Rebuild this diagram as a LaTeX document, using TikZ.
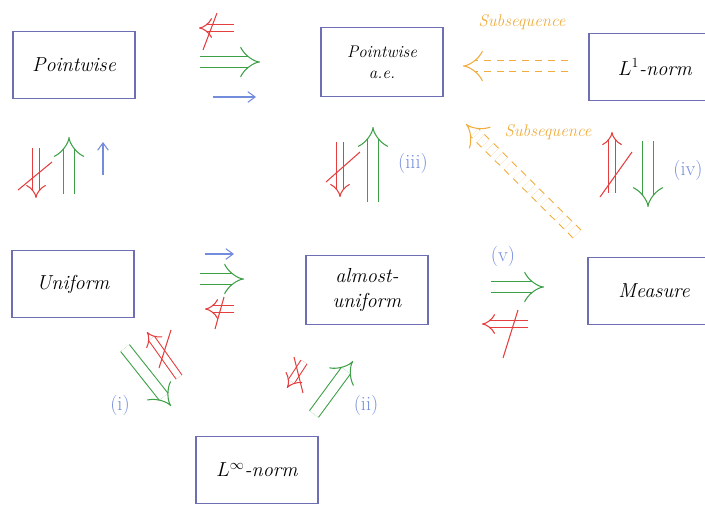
\documentclass[tikz,border=0pt]{standalone}
\usepackage{xcolor}
\usepackage{tikz}
\usetikzlibrary{arrows.meta}

\definecolor{boxblue}{RGB}{110,110,180}
\definecolor{okgreen}{RGB}{60,160,70}
\definecolor{nored}{RGB}{228,62,62}
\definecolor{penblue}{RGB}{115,140,220}
\definecolor{suborange}{RGB}{240,172,60}

\begin{document}
\begin{tikzpicture}[
  x=0.3mm, y=-0.3mm,
  box/.style={rectangle, draw=boxblue, line width=1pt, minimum width=36.6mm, minimum height=20mm, align=center, font=\LARGE\itshape},
  imp/.style={draw=okgreen, line width=0.9pt, double, double distance=3mm, -{Implies}},
  nimp/.style={draw=nored, line width=0.9pt, double, double distance=1.8mm, -{Implies}},
  arr/.style={draw=penblue, line width=0.9pt, -{Straight Barb[length=2.2mm, width=3.2mm]}},
  subarr/.style={draw=suborange, line width=0.9pt, double, double distance=3mm, dashed, dash pattern=on 6pt off 5pt, -{Implies}},
  slash/.style={draw=nored, line width=0.9pt},
  lab/.style={text=penblue, font=\LARGE},
  subtxt/.style={text=suborange, font=\Large\itshape}
]
\useasboundingbox (0,0) rectangle (705,504);

% boxes
\node[box] (pw) at (74,65) {Pointwise};
\node[box, font=\Large\itshape, minimum height=20.7mm] (pae) at (382,62) {Pointwise\\a.e.};
\node[box, minimum width=39.6mm] (l1) at (655,67) {$L^1$-norm};
\node[box] (uni) at (73,284) {Uniform};
\node[box, minimum height=20.7mm] (au) at (367,290) {almost-\\uniform};
\node[box, minimum width=39.6mm] (meas) at (654,291) {Measure};
\node[box] (linf) at (257,470) {$L^\infty$-norm};

% Pointwise -- Pointwise a.e.
\coordinate (pwa1) at (234,28); \coordinate (pwa2) at (199,28);
\coordinate (pwx1) at (217,13); \coordinate (pwx2) at (203,50);
\coordinate (pwb1) at (200,62); \coordinate (pwb2) at (260,62);
\coordinate (pwc1) at (213,97); \coordinate (pwc2) at (256,97);
\draw[nimp] (pwa1) -- (pwa2);
\draw[slash] (pwx1) -- (pwx2);
\draw[imp] (pwb1) -- (pwb2);
\draw[arr] (pwc1) -- (pwc2);

% L1 -- Pointwise a.e.
\coordinate (l1a1) at (568,66); \coordinate (l1a2) at (463,66);
\draw[subarr] (l1a1) -- (l1a2);
\node[subtxt] (sub1) at (522,22) {Subsequence};

% Pointwise -- Uniform
\coordinate (pua1) at (36,148); \coordinate (pua2) at (36,198);
\coordinate (pux1) at (18,190); \coordinate (pux2) at (52,162);
\coordinate (pub1) at (69,194); \coordinate (pub2) at (69,137);
\coordinate (puc1) at (103,175); \coordinate (puc2) at (103,142);
\draw[nimp] (pua1) -- (pua2);
\draw[slash] (pux1) -- (pux2);
\draw[imp] (pub1) -- (pub2);
\draw[arr] (puc1) -- (puc2);

% Pointwise a.e. -- almost-uniform
\coordinate (aea1) at (340,142); \coordinate (aea2) at (340,197);
\coordinate (aex1) at (326,182); \coordinate (aex2) at (360,152);
\coordinate (aeb1) at (373,202); \coordinate (aeb2) at (373,127);
\draw[nimp] (aea1) -- (aea2);
\draw[slash] (aex1) -- (aex2);
\draw[imp] (aeb1) -- (aeb2);
\node[lab] (iii) at (413,163) {(iii)};

% Measure -- Pointwise a.e.
\coordinate (msa1) at (577,234); \coordinate (msa2) at (466,124);
\draw[subarr] (msa1) -- (msa2);
\node[subtxt] (sub2) at (548,132) {Subsequence};

% L1 -- Measure
\coordinate (lma1) at (612,193); \coordinate (lma2) at (612,132);
\coordinate (lmx1) at (600,197); \coordinate (lmx2) at (632,152);
\coordinate (lmb1) at (648,141); \coordinate (lmb2) at (648,207);
\draw[nimp] (lma1) -- (lma2);
\draw[slash] (lmx1) -- (lmx2);
\draw[imp] (lmb1) -- (lmb2);
\node[lab] (iv) at (688,170) {(iv)};

% Uniform -- almost-uniform
\coordinate (uaa1) at (205,254); \coordinate (uaa2) at (234,254);
\coordinate (uab1) at (200,279); \coordinate (uab2) at (244,279);
\coordinate (uac1) at (234,309); \coordinate (uac2) at (205,309);
\coordinate (uax1) at (224,297); \coordinate (uax2) at (215,329);
\draw[arr] (uaa1) -- (uaa2);
\draw[imp] (uab1) -- (uab2);
\draw[nimp] (uac1) -- (uac2);
\draw[slash] (uax1) -- (uax2);

% almost-uniform -- Measure
\node[lab] (v) at (503,256) {(v)};
\coordinate (ama1) at (491,287); \coordinate (ama2) at (544,287);
\coordinate (amb1) at (528,324); \coordinate (amb2) at (482,324);
\coordinate (amx1) at (518,310); \coordinate (amx2) at (503,358);
\draw[imp] (ama1) -- (ama2);
\draw[nimp] (amb1) -- (amb2);
\draw[slash] (amx1) -- (amx2);

% Uniform -- L infinity
\coordinate (ula1) at (125,348); \coordinate (ula2) at (171,406);
\coordinate (ulb1) at (179,377); \coordinate (ulb2) at (147,332);
\coordinate (ulx1) at (159,368); \coordinate (ulx2) at (171,330);
\draw[imp] (ula1) -- (ula2);
\draw[nimp] (ulb1) -- (ulb2);
\draw[slash] (ulx1) -- (ulx2);
\node[lab] (i) at (120,405) {(i)};

% L infinity -- almost-uniform
\coordinate (laa1) at (314,414); \coordinate (laa2) at (353,361);
\coordinate (lab1) at (304,362); \coordinate (lab2) at (287,388);
\coordinate (lax1) at (294,357); \coordinate (lax2) at (303,393);
\draw[imp] (laa1) -- (laa2);
\draw[nimp] (lab1) -- (lab2);
\draw[slash] (lax1) -- (lax2);
\node[lab] (ii) at (366,405) {(ii)};

\end{tikzpicture}
\end{document}
